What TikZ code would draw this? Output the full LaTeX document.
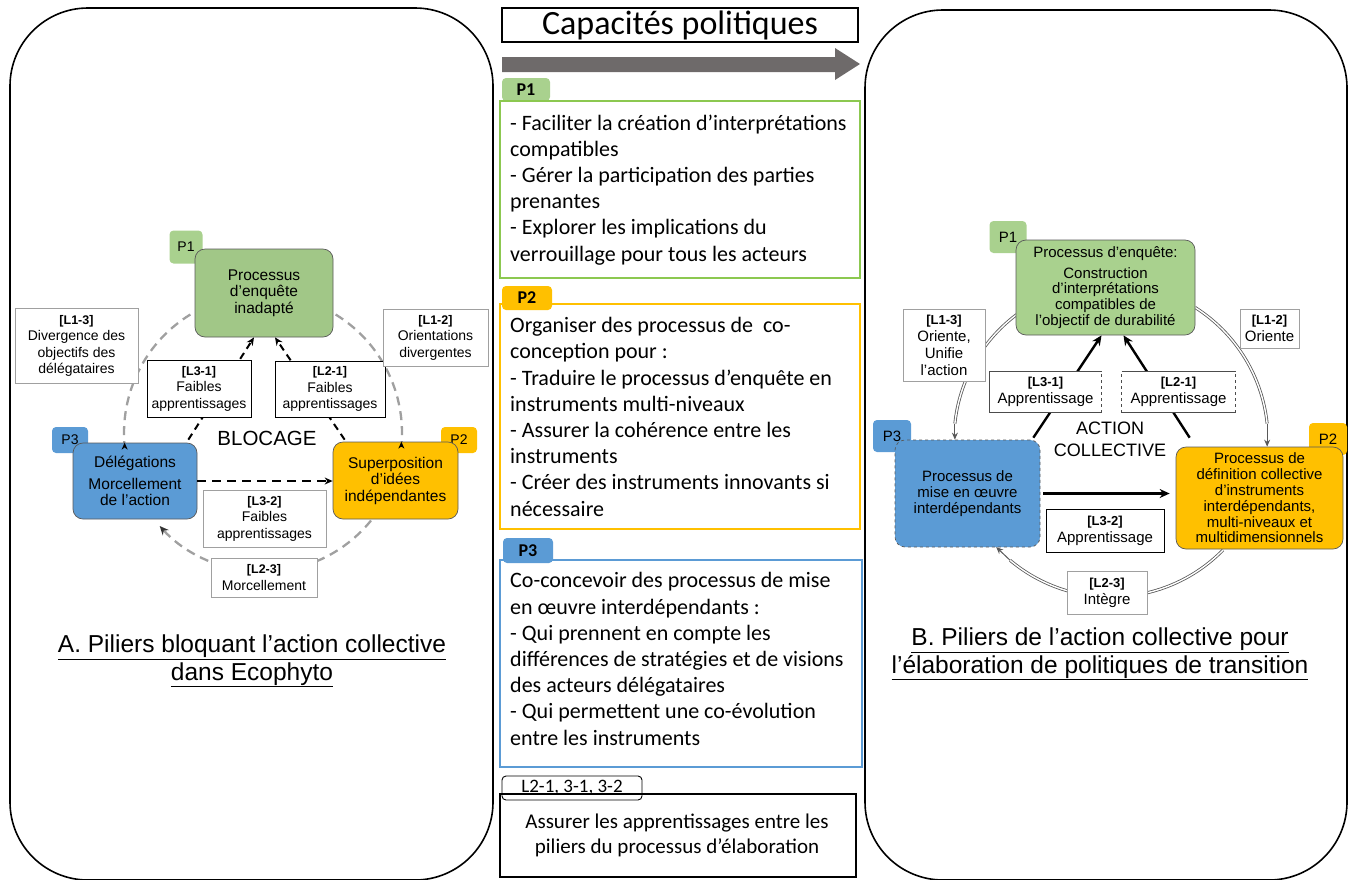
\documentclass[tikz,border=0pt]{standalone}
\usepackage{fontspec}
\setmainfont{Carlito}
\newfontfamily\arial{Liberation Sans}
\usetikzlibrary{arrows.meta,calc}
\definecolor{pgreen}{HTML}{A9D18E}
\definecolor{bgreen}{HTML}{8CC850}
\definecolor{pyellow}{HTML}{FFC000}
\definecolor{pblue}{HTML}{5B9BD5}
\definecolor{agray}{HTML}{6E6A6A}
\definecolor{lgray}{HTML}{A0A0A0}
\newcommand{\labL}{\bfseries\fontsize{12.5}{16.5}\selectfont}
\newcommand{\labR}{\bfseries\fontsize{13}{17}\selectfont}
\begin{document}
\begin{tikzpicture}[x=1pt,y=1pt,
  panel/.style={draw=black, line width=1.6, rounded corners=78},
  mframe/.style={line width=2.6, inner sep=0},
  mtab/.style={rounded corners=4, inner sep=0, font=\bfseries\fontsize{18}{18}\selectfont},
  mtext/.style={inner sep=0, align=left, font=\fontsize{22}{26.2}\selectfont},
  lnode/.style={rounded corners=10, draw=gray!70!black, line width=0.7, inner sep=0, align=center, font=\arial\fontsize{15.5}{16.5}\selectfont},
  ltag/.style={rounded corners=4, inner sep=0, font=\arial\fontsize{14}{14}\selectfont},
  lbl/.style={fill=white, line width=1, inner sep=0, align=center, font=\arial\fontsize{14}{16.5}\selectfont},
  rnode/.style={rounded corners=10, draw=gray!70!black, line width=0.7, inner sep=0, align=center, font=\arial\fontsize{15}{15.8}\selectfont},
  rtag/.style={rounded corners=4, inner sep=0, font=\arial\fontsize{15}{15}\selectfont},
  rlbl/.style={fill=white, line width=1, inner sep=0, align=center, font=\arial\fontsize{15}{17}\selectfont},
  larc/.style={draw=lgray, line width=2.3, dash pattern=on 9pt off 6pt},
  ldarr/.style={draw=black, line width=2, dash pattern=on 7pt off 5pt, -{Stealth[length=8pt,width=7pt]}},
  tiparr/.style={draw=black, line width=1, -{Stealth[length=7pt,width=6pt]}},
  rarc/.style={draw=gray!70!black, double=white, line width=0.8, double distance=1.4},
  rarr/.style={draw=black, line width=2.4, -{Stealth[length=10pt,width=9pt]}},
  caption/.style={align=center, font=\arial\fontsize{24.5}{27.5}\selectfont}
]
\useasboundingbox (0,0) rectangle (1351,-879);

% ---------- panels ----------
\draw[panel] (10,-8) rectangle (493,-880);
\draw[panel] (865,-10) rectangle (1347,-880);

% ---------- middle column ----------
\node[draw, line width=2.6, minimum width=356, minimum height=34, inner sep=0, font=\fontsize{34}{34}\selectfont] (title) at (680,-25) {Capacités politiques};
\fill[agray] (502,-57) -- (835,-57) -- (835,-48) -- (860,-64) -- (835,-80) -- (835,-72) -- (502,-72) -- cycle;

\node[mtab, fill=pgreen, minimum width=48, minimum height=23] (mt1) at (526,-89.5) {P1};
\node[mframe, draw=bgreen, minimum width=360, minimum height=177] (m1) at (680,-189.5) {};
\node[mtext, anchor=base west] (m1t) at (510,-261) {- Faciliter la création d’interprétations\\compatibles\\- Gérer la participation des parties\\prenantes\\- Explorer les implications du\\verrouillage pour tous les acteurs};

\node[mtab, fill=pyellow, minimum width=50, minimum height=24] (mt2) at (527,-298) {P2};
\node[mframe, draw=pyellow, minimum width=360, minimum height=225] (m2) at (680,-416.5) {};
\node[mtext, anchor=base west] (m2t) at (510,-516) {Organiser des processus de\ \ co-\\conception pour :\\- Traduire le processus d’enquête en\\instruments multi-niveaux\\- Assurer la cohérence entre les\\instruments\\- Créer des instruments innovants si\\nécessaire};

\node[mtab, fill=pblue, minimum width=50, minimum height=25] (mt3) at (528,-550.5) {P3};
\node[mframe, draw=pblue, minimum width=362, minimum height=207] (m3) at (681,-663.5) {};
\node[mtext, anchor=base west] (m3t) at (510,-745) {Co-concevoir des processus de mise\\en œuvre interdépendants :\\- Qui prennent en compte les\\différences de stratégies et de visions\\des acteurs délégataires\\- Qui permettent une co-évolution\\entre les instruments};

\node[draw=black, fill=white, line width=0.9, rounded corners=4, inner sep=0, minimum width=140, minimum height=24, font=\fontsize{19}{19}\selectfont] (mt4) at (572,-788) {L2-1, 3-1, 3-2};
\node[mframe, draw=black, minimum width=356, minimum height=83] (m4) at (678,-835.5) {};
\node[inner sep=0, align=center, anchor=base, font=\fontsize{21}{25.5}\selectfont] (m4t) at (677,-853.5) {Assurer les apprentissages entre les\\piliers du processus d’élaboration};

% ---------- left diagram ----------
\coordinate (lc) at (263,-433);
\coordinate (a13s) at ($(lc)+(121.5:139)$);
\coordinate (a12s) at ($(lc)+(58.5:139)$);
\coordinate (a23s) at ($(lc)+(-39:139)$);
\draw[larc] (a13s) arc[start angle=121.5, end angle=185.4, radius=139] coordinate (a13e);
\draw[larc] (a12s) arc[start angle=58.5, end angle=-5.4, radius=139] coordinate (a12e);
\draw[larc, -{Stealth[length=9pt,width=8pt,color=gray!40!black]}] (a23s) arc[start angle=-39, end angle=-138, radius=139] coordinate (a23e);

\node[ltag, fill=pgreen, minimum width=33, minimum height=33] (lt1) at (186,-247) {P1};
\node[ltag, fill=pblue, minimum width=36, minimum height=26] (lt3) at (70,-440) {P3};
\node[ltag, fill=pyellow, minimum width=36, minimum height=26] (lt2) at (459,-440) {P2};

\node[lnode, fill=pgreen!95!black, minimum width=138, minimum height=88] (lp1) at (264,-293) {Processus\\d’enquête\\inadapté};
\node[lnode, fill=pblue, minimum width=124, minimum height=76] (lp3) at (135,-481) {Délégations\\[5pt]Morcellement\\de l’action};
\node[lnode, fill=pyellow, minimum width=125, minimum height=77] (lp2) at (395.5,-480.5) {Superposition\\d’idées\\indépendantes};

\draw[tiparr] (a13e) -- (a13e |- lp3.north);
\draw[tiparr] (a12e) -- (a12e |- lp2.north);
\draw[ldarr] ([xshift=-9,yshift=3]lp3.north east) -- ([xshift=-10]lp1.south);
\draw[ldarr] ([xshift=12,yshift=2]lp2.north west) -- ([xshift=11]lp1.south);
\draw[ldarr, line width=2.2, dash pattern=on 9pt off 6pt] (lp3.east) -- (lp3.east -| lp2.west);

\node[font=\arial\fontsize{20.5}{20.5}\selectfont] (blocage) at (267,-438) {BLOCAGE};

\node[lbl, draw=lgray, minimum width=123, minimum height=75] (ll13) at (76.5,-346) {{\labL [L1-3]}\\Divergence des\\objectifs des\\délégataires};
\node[lbl, draw=black, minimum width=104, minimum height=57] (ll31) at (199,-388.5) {{\labL [L3-1]}\\Faibles\\apprentissages};
\node[lbl, draw=black, minimum width=110, minimum height=56] (ll21) at (330,-389) {{\labL [L2-1]}\\Faibles\\apprentissages};
\node[lbl, draw=lgray, minimum width=105, minimum height=57] (ll12) at (435.5,-337.5) {{\labL [L1-2]}\\Orientations\\divergentes};
\node[lbl, draw=lgray, minimum width=123, minimum height=57] (ll32) at (264.5,-518.5) {{\labL [L3-2]}\\Faibles\\apprentissages};
\node[lbl, draw=lgray, minimum width=106, minimum height=39] (ll23) at (264,-577.5) {{\labL [L2-3]}\\Morcellement};

\node[caption] (capA) at (252,-661) {\underline{A. Piliers bloquant l’action collective}\\\underline{dans Ecophyto}};

% ---------- right diagram ----------
\coordinate (rc) at (1111,-440);
\coordinate (r13s) at ($(rc)+(127:157)$);
\coordinate (r12s) at ($(rc)+(57.6:157)$);
\coordinate (r23s) at ($(rc)+(-44.5:157)$);
\coordinate (r23e) at ($(rc)+(-137:157)$);
\draw[rarc] (r13s) arc[start angle=127, end angle=174, radius=157] coordinate (r13e);
\draw[rarc] (r12s) arc[start angle=57.6, end angle=6, radius=157] coordinate (r12e);
\draw[rarc] (r23s) arc[start angle=-44.5, end angle=-130, radius=157] coordinate (r23m);

\node[rtag, fill=pgreen, minimum width=37, minimum height=32] (rt1) at (1008,-237) {P1};
\node[rtag, fill=pblue, minimum width=38, minimum height=32] (rt3) at (892,-436) {P3};
\node[rtag, fill=pyellow, minimum width=38, minimum height=32] (rt2) at (1328,-439) {P2};

\node[rnode, fill=pgreen, minimum width=179, minimum height=95] (rp1) at (1105.5,-287.5) {Processus d’enquête:\\[5pt]Construction\\d’interprétations\\compatibles de\\l’objectif de durabilité};
\node[rnode, fill=pblue, dashed, minimum width=145, minimum height=107] (rp3) at (967.5,-493.5) {Processus de\\mise en œuvre\\interdépendants};
\node[rnode, fill=pyellow, minimum width=167, minimum height=102] (rp2) at (1259.5,-498) {Processus de\\définition collective\\d’instruments\\interdépendants,\\multi-niveaux et\\multidimensionnels};

\draw[tiparr, draw=gray!70!black] (r13e) -- (r13e |- rp3.north);
\draw[tiparr, draw=gray!70!black] (r12e) -- (r12e |- rp2.north);
\draw[tiparr, draw=gray!70!black] (r23m) -- (r23e);
\draw[rarr] ([xshift=-7,yshift=2]rp3.north east) -- ([xshift=-4]rp1.south);
\draw[rarr] ([xshift=14,yshift=9]rp2.north west) -- ([xshift=18]rp1.south);
\draw[rarr] ([xshift=3]rp3.east) -- ([xshift=-6]rp3.east -| rp2.west);

\node[align=center, font=\arial\fontsize{18}{22}\selectfont] (actc) at (1110,-439) {ACTION\\COLLECTIVE};

\node[rlbl, draw=lgray, minimum width=82, minimum height=72] (rl13) at (944,-345) {{\labR [L1-3]}\\Oriente,\\Unifie\\l’action};
\node[rlbl, minimum width=111, minimum height=40] (rl31) at (1045.5,-392) {{\labR [L3-1]}\\Apprentissage};
\draw[gray!60!black, line width=0.9] (rl31.north east) -- (rl31.north west) -- (rl31.south west) -- (rl31.south east);
\draw[gray!60!black, line width=0.9, dashed] (rl31.south east) -- (rl31.north east);
\node[rlbl, minimum width=113, minimum height=40] (rl21) at (1178.5,-392) {{\labR [L2-1]}\\Apprentissage};
\draw[gray!60!black, line width=0.9] (rl21.north west) -- (rl21.north east);
\draw[gray!60!black, line width=0.9] (rl21.south west) -- (rl21.south east);
\draw[gray!60!black, line width=0.9, dashed] (rl21.south west) -- (rl21.north west);
\draw[gray!60!black, line width=0.9, dashed] (rl21.south east) -- (rl21.north east);
\node[rlbl, draw=lgray, minimum width=59, minimum height=39] (rl12) at (1269.5,-328.5) {{\labR [L1-2]}\\Oriente};
\node[rlbl, draw=black, minimum width=118, minimum height=43] (rl32) at (1105,-530.5) {{\labR [L3-2]}\\Apprentissage};
\node[rlbl, draw=lgray, minimum width=80, minimum height=43] (rl23) at (1107,-592.5) {{\labR [L2-3]}\\Intègre};

\node[caption] (capB) at (1100,-654) {\underline{B. Piliers de l’action collective pour}\\\underline{l’élaboration de politiques de transition}};
\end{tikzpicture}
\end{document}
